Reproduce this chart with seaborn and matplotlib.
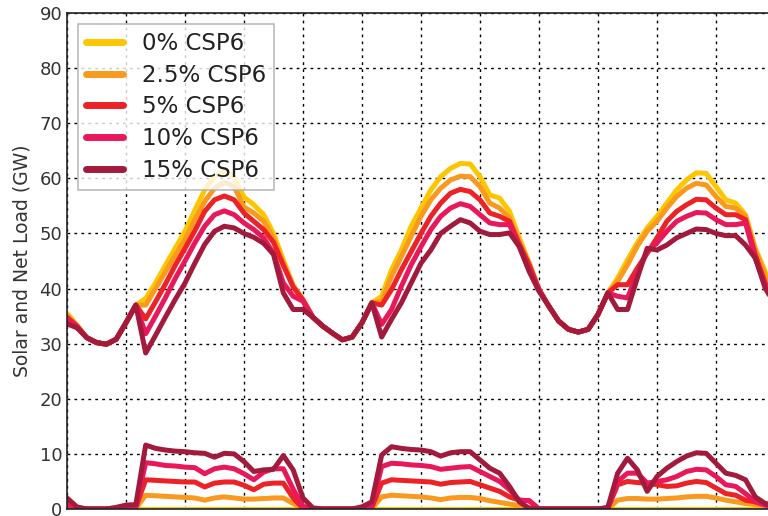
import numpy as np
import pandas as pd
import matplotlib
matplotlib.use("Agg")
import matplotlib.pyplot as plt
import seaborn as sns
from matplotlib.lines import Line2D

# hourly values over three days (hour 0..72)
hours = list(range(73))

scenarios = ['0% CSP6', '2.5% CSP6', '5% CSP6', '10% CSP6', '15% CSP6']
colors = ['#fdc600', '#f99a1f', '#ec2227', '#e8185a', '#a31b3c']

net_0 = [35.5, 33.4, 31.1, 30.2, 29.9, 30.8, 33.8, 37.0,
         38.2, 41.0, 44.2, 47.3, 50.4, 54.2, 57.9, 60.3, 61.5, 60.2, 56.6, 55.2, 53.4, 50.0, 45.2, 40.6,
         38.0, 34.8, 33.2, 31.9, 30.7, 31.2, 33.8, 37.4,
         38.6, 43.4, 47.0, 51.3, 54.6, 57.9, 60.3, 61.8, 62.7, 62.6, 60.3, 57.0, 56.4, 54.0, 49.2, 44.6,
         39.8, 36.8, 34.1, 32.6, 32.1, 32.6, 35.3, 39.2,
         41.9, 45.2, 48.3, 51.0, 53.1, 55.5, 57.9, 59.7, 61.0, 60.9, 58.5, 56.1, 55.5, 53.4, 47.3, 43.1,
         37.0]
net_25 = [35.2, 33.3, 31.1, 30.2, 29.9, 30.8, 33.8, 37.0,
          37.0, 40.0, 43.0, 46.0, 48.9, 52.5, 55.8, 58.2, 59.3, 58.5, 54.8, 53.7, 52.2, 49.2, 44.6, 40.4,
          38.0, 34.8, 33.2, 31.9, 30.7, 31.2, 33.8, 37.4,
          37.7, 42.2, 45.8, 49.5, 53.1, 56.1, 58.2, 59.7, 60.4, 60.3, 58.5, 55.5, 54.6, 52.8, 48.6, 44.6,
          39.8, 36.8, 34.1, 32.6, 32.1, 32.6, 35.3, 39.2,
          41.3, 44.3, 47.7, 50.4, 52.2, 54.6, 56.7, 58.2, 59.1, 58.8, 56.7, 54.9, 54.6, 53.1, 47.0, 42.5,
          37.0]
net_5 = [34.8, 33.2, 31.1, 30.2, 29.9, 30.8, 33.8, 37.0,
         34.5, 37.6, 40.8, 44.2, 47.3, 50.5, 54.0, 56.1, 56.8, 56.1, 53.7, 52.2, 50.7, 48.4, 44.2, 40.3,
         37.9, 34.8, 33.2, 31.9, 30.7, 31.2, 33.8, 37.4,
         37.0, 39.8, 43.4, 46.7, 50.0, 53.1, 55.5, 57.3, 58.0, 57.6, 56.1, 53.7, 53.1, 52.2, 48.0, 44.3,
         39.8, 36.8, 34.1, 32.6, 32.1, 32.6, 35.3, 39.2,
         40.7, 40.7, 43.7, 46.4, 49.2, 52.2, 54.0, 55.2, 56.2, 56.1, 54.6, 53.4, 53.4, 52.5, 46.1, 41.0,
         37.0]
net_10 = [34.3, 33.1, 31.1, 30.2, 29.9, 30.8, 33.8, 37.0,
          31.8, 35.0, 38.3, 41.8, 45.0, 48.3, 51.3, 53.4, 54.1, 53.4, 51.9, 50.7, 49.2, 46.4, 41.0, 38.6,
          37.7, 34.8, 33.2, 31.9, 30.7, 31.2, 33.8, 37.4,
          33.5, 36.2, 40.4, 44.3, 47.6, 50.7, 53.1, 54.6, 55.4, 54.9, 53.4, 51.9, 51.6, 51.6, 47.6, 43.4,
          39.8, 36.8, 34.1, 32.6, 32.1, 32.6, 35.3, 39.2,
          38.6, 38.3, 42.8, 46.7, 48.3, 50.4, 52.2, 53.1, 53.8, 53.7, 52.5, 51.6, 51.6, 51.9, 45.5, 40.7,
          37.0]
net_15 = [33.6, 32.9, 31.1, 30.2, 29.9, 30.8, 33.8, 37.0,
          28.3, 31.5, 34.8, 38.0, 41.0, 44.6, 48.0, 50.4, 51.3, 51.0, 50.0, 49.3, 48.2, 46.2, 39.2, 36.2,
          36.2, 34.8, 33.2, 31.9, 30.7, 31.2, 33.8, 37.4,
          31.2, 34.4, 37.4, 41.0, 44.6, 47.0, 50.0, 51.3, 52.5, 51.9, 50.4, 49.8, 49.8, 50.1, 47.6, 43.1,
          39.5, 36.8, 34.1, 32.6, 32.1, 32.6, 35.3, 39.2,
          36.2, 36.2, 41.9, 47.3, 47.0, 47.9, 49.2, 50.0, 50.8, 50.7, 50.0, 49.6, 49.6, 47.9, 45.5, 40.1,
          37.0]

csp_0 = [0.0] * 73
csp_25 = [0.3, 0, 0, 0, 0, 0, 0, 0.1,
          2.5, 2.4, 2.3, 2.2, 2.1, 2.0, 1.6, 2.0, 2.2, 2.0, 1.8, 1.8, 1.9, 2.0, 2.0, 1.0,
          0, 0, 0, 0, 0, 0, 0, 0.1,
          2.2, 2.5, 2.4, 2.3, 2.2, 2.0, 1.7, 2.0, 2.1, 2.1, 1.9, 1.5, 1.2, 0.9, 0.6, 0.3,
          0, 0, 0, 0, 0, 0, 0, 0,
          1.6, 1.9, 1.9, 1.8, 1.8, 1.9, 2.0, 2.2, 2.3, 2.3, 2.0, 1.6, 1.3, 1.0, 0.8, 0.5,
          0.3]
csp_5 = [0.6, 0, 0, 0, 0, 0, 0.2, 0.3,
         5.3, 5.2, 5.1, 5.0, 4.9, 4.9, 4.0, 4.7, 4.9, 4.9, 4.3, 3.5, 4.5, 4.7, 4.7, 2.0,
         0.1, 0, 0, 0, 0, 0, 0, 0.3,
         4.7, 5.3, 5.2, 5.1, 5.0, 4.9, 4.5, 4.8, 4.9, 5.0, 4.4, 3.8, 3.2, 2.2, 1.6, 1.5,
         0, 0, 0, 0, 0, 0, 0, 0.1,
         4.4, 5.0, 4.8, 4.7, 4.4, 4.1, 4.2, 4.7, 5.0, 4.8, 3.8, 2.8, 2.5, 1.6, 1.3, 1.0,
         0.5]
csp_10 = [1.3, 0.2, 0, 0, 0, 0, 0.3, 0.5,
          8.4, 8.2, 7.9, 7.8, 7.6, 7.5, 6.4, 7.3, 7.6, 7.3, 6.4, 5.3, 6.7, 7.3, 7.3, 3.6,
          0.5, 0, 0, 0, 0, 0, 0.2, 0.5,
          7.7, 8.3, 8.2, 8.0, 7.9, 7.7, 7.2, 7.4, 7.6, 7.7, 6.8, 5.9, 5.0, 3.5, 1.6, 1.5,
          0, 0, 0, 0, 0, 0, 0, 0.2,
          5.0, 6.5, 6.5, 4.7, 5.0, 5.3, 5.9, 6.8, 7.2, 7.1, 5.9, 4.4, 4.1, 2.8, 1.3, 0.7,
          0.3]
csp_15 = [2.0, 0.4, 0, 0, 0, 0.3, 0.7, 0.8,
          11.6, 11.0, 10.7, 10.5, 10.4, 10.2, 10.1, 9.4, 10.1, 10.0, 8.6, 6.8, 7.1, 7.2, 9.7, 7.1,
          2.0, 0.2, 0, 0, 0, 0, 0.4, 1.3,
          9.8, 11.3, 11.0, 10.8, 10.7, 10.4, 9.6, 10.2, 10.4, 10.4, 8.9, 7.4, 6.5, 4.1, 1.3, 0.1,
          0, 0, 0, 0, 0, 0, 0, 0.3,
          6.5, 9.2, 7.1, 3.2, 5.9, 7.4, 8.6, 9.6, 10.2, 10.1, 8.3, 6.5, 6.1, 5.3, 2.2, 1.0,
          0.5]

net_series = [net_0, net_25, net_5, net_10, net_15]
csp_series = [csp_0, csp_25, csp_5, csp_10, csp_15]

rows = []
for name, net, csp in zip(scenarios, net_series, csp_series):
    for h, v in zip(hours, net):
        rows.append((h, v, name, 'net'))
    for h, v in zip(hours, csp):
        rows.append((h, v, name, 'csp'))
df = pd.DataFrame(rows, columns=['hour', 'GW', 'scenario', 'kind'])

sns.set_style('white')
plt.rcParams['font.family'] = ['DejaVu Sans']

fig = plt.figure(figsize=(7.68, 5.16), dpi=100)
ax = fig.add_axes([67 / 768, 7 / 516, 708 / 768, 496 / 516])

palette = dict(zip(scenarios, colors))
sns.lineplot(data=df, x='hour', y='GW', hue='scenario', units='kind',
             estimator=None, palette=palette, hue_order=scenarios,
             linewidth=3.6, legend=False, ax=ax)

ax.set_xlim(0, 72)
ax.set_ylim(0, 90)
ax.set_xticks(range(0, 73, 6))
ax.set_xticklabels([])
ax.set_yticks(range(0, 91, 10))
ax.set_xlabel('')
ax.set_ylabel('Solar and Net Load (GW)', fontsize=13.5, color='#333333', labelpad=6)
ax.grid(True, color='black', linestyle=(0, (2, 3)), linewidth=1)
ax.tick_params(axis='both', direction='in', length=4, labelsize=13,
               labelcolor='#333333', color='black')
for s in ax.spines.values():
    s.set_color('#222222')
    s.set_linewidth(1.2)

handles = [Line2D([0], [0], color=c, lw=5) for c in colors]
leg = ax.legend(handles, scenarios, loc='upper left',
                bbox_to_anchor=(11 / 708, 1 - 11 / 496), borderaxespad=0,
                fontsize=16.5, frameon=True, fancybox=False, handlelength=1.6,
                labelspacing=0.38, borderpad=0.35, handletextpad=0.85)
leg.get_frame().set_edgecolor('#aaaaaa')
leg.get_frame().set_linewidth(1.2)
for t in leg.get_texts():
    t.set_color('#222222')

fig.savefig('out.png', dpi=100)
